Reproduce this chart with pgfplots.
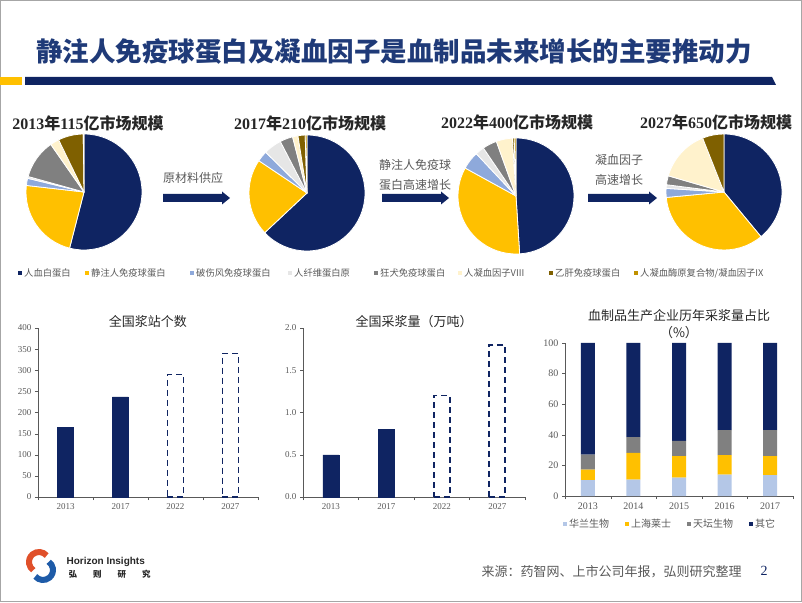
\documentclass[border=0pt]{standalone}
\usepackage{pgfplots}
\pgfplotsset{compat=1.18}
\usepackage{fontspec}
\setmainfont{Liberation Serif}
\newfontfamily\cjk{Noto Sans CJK SC}
\newfontfamily\lsans{Liberation Sans}
\definecolor{navy}{HTML}{0F2462}
\definecolor{gold}{HTML}{FFC000}
\definecolor{lblue}{HTML}{8EA9DB}
\definecolor{lgray}{HTML}{E6E6E6}
\definecolor{midgray}{HTML}{808080}
\definecolor{cream}{HTML}{FFF2CC}
\definecolor{brown}{HTML}{7F6000}
\definecolor{olive}{HTML}{BF9000}
\definecolor{hblue}{HTML}{B4C7E7}
\definecolor{titleblue}{HTML}{1F3A78}
\definecolor{textgray}{HTML}{595959}
\definecolor{axisgray}{HTML}{595959}
\definecolor{darktext}{HTML}{262626}
\definecolor{logored}{HTML}{E0502A}
\definecolor{logoblue}{HTML}{1E5BA8}

\pgfplotsset{
  barax/.style={
    scale only axis, axis x line*=bottom, axis y line*=left,
    axis line style={-, draw=axisgray},
    ymin=0, tick align=outside, clip=false,
    tick label style={text=textgray, font=\fontsize{9}{10}\selectfont},
    /pgf/number format/assume math mode=true,
    major x tick style={draw=none},
    minor x tick style={draw=axisgray},
    y tick style={draw=axisgray},
    major tick length=3pt, minor tick length=3pt,
    title style={font=\cjk\fontsize{13}{15}\selectfont, text=darktext, yshift=-9pt},
  },
  dashbar/.style={ybar, bar width=16pt, bar shift=0pt, fill=white, draw=navy, line width=1.7pt, dash pattern=on 6pt off 4pt},
  solidbar/.style={ybar, bar width=16pt, bar shift=0pt, fill=navy, draw=navy},
}

\newcommand{\piechart}[2]{%
\begin{axis}[at={#1}, anchor=center, hide axis, scale only axis, width=120pt, height=120pt,
  xmin=-1, xmax=1, ymin=-1, ymax=1, clip=false]
\pgfplotsextra{\foreach \p/\c [remember=\e as \s (initially 90)] in {#2}{%
  \pgfmathsetmacro\e{\s-3.6*\p}%
  \fill[\c, draw=white, line width=0.8pt, line join=round] (axis cs:0,0) -- ++(\s:58pt) arc[start angle=\s, end angle=\e, radius=58pt] -- cycle;}}
\end{axis}}

\begin{document}
\begin{tikzpicture}[x=1pt,y=1pt]
\path[use as bounding box] (0pt,0pt) rectangle (802pt,602pt);
\draw[gray!70, line width=1.2pt] (0.6,0.6) rectangle (801.4,601.4);

% title and bar
\node[text=titleblue, font={\cjk\bfseries\fontsize{26.5}{30}\selectfont}] at (394,550) {静注人免疫球蛋白及凝血因子是血制品未来增长的主要推动力};
\fill[gold] (0,517) rectangle (22,525);
\fill[navy] (25,517) -- (776,517) -- (772,525) -- (25,525) -- cycle;

% pie titles
\begin{scope}[every node/.style={text=darktext, font={\bfseries\fontsize{16}{18}\selectfont}}]
\node at (88,479) {2013{\cjk 年}115{\cjk 亿市场规模}};
\node at (310,479) {2017{\cjk 年}210{\cjk 亿市场规模}};
\node at (517,480) {2022{\cjk 年}400{\cjk 亿市场规模}};
\node at (716,480) {2027{\cjk 年}650{\cjk 亿市场规模}};
\end{scope}

% pies
\piechart{(84pt,410pt)}{54/navy, 22.8/gold, 2/lblue, 0.5/lgray, 11/midgray, 2.5/cream, 7/brown, 0.2/olive}
\piechart{(307pt,409pt)}{63/navy, 21.4/gold, 3/lblue, 5/lgray, 3.6/midgray, 1.5/cream, 2/brown, 0.5/olive}
\piechart{(516pt,406pt)}{49/navy, 34/gold, 5/lblue, 2.5/lgray, 4/midgray, 4.5/cream, 0.5/brown, 0.5/olive}
\piechart{(724pt,410pt)}{39/navy, 34.5/gold, 2.5/lblue, 1/lgray, 2.5/midgray, 14.5/cream, 6/brown}

% arrows
\fill[navy] (163,400) -- (222,400) -- (222,397.5) -- (230,404) -- (222,410.5) -- (222,408) -- (163,408) -- cycle;
\fill[navy] (382,400) -- (441,400) -- (441,397.5) -- (449,404) -- (441,410.5) -- (441,408) -- (382,408) -- cycle;
\fill[navy] (588,400) -- (649,400) -- (649,397.5) -- (657,404) -- (649,410.5) -- (649,408) -- (588,408) -- cycle;
\begin{scope}[every node/.style={text=textgray, align=center, font={\cjk\fontsize{12}{19.5}\selectfont}}]
\node at (193,424) {原材料供应};
\node at (415,427) {静注人免疫球\\蛋白高速增长};
\node at (619,432) {凝血因子\\高速增长};
\end{scope}

% pie legend
\foreach \mx/\c/\t in {20/navy/{人血白蛋白}, 87/gold/{静注人免疫球蛋白}, 192/lblue/{破伤风免疫球蛋白}, 290/lgray/{人纤维蛋白原}, 376/midgray/{狂犬免疫球蛋白}, 460/cream/{人凝血因子VIII}, 551/brown/{乙肝免疫球蛋白}, 636/olive/{人凝血酶原复合物/凝血因子IX}}{
  \fill[\c] (\mx-1.8,327.2) rectangle (\mx+1.8,330.8);
  \node[anchor=west, inner sep=0pt, text=textgray, font={\cjk\fontsize{9.3}{11}\selectfont}] at (\mx+4,329) {\t};
}

% chart A
\begin{axis}[barax, at={(38pt,105pt)}, anchor=south west, width=220pt, height=169pt,
  xmin=-0.5, xmax=3.5, ymax=400, ytick={0,50,...,400},
  xtick={0,1,2,3}, xticklabels={2013,2017,2022,2027}, minor xtick={-0.5,0.5,1.5,2.5,3.5},
  title={全国浆站个数}, ybar]
\addplot[solidbar] coordinates {(0,165) (1,237)};
\addplot[dashbar] coordinates {(2,290) (3,340)};
\end{axis}

% chart B
\begin{axis}[barax, at={(303pt,105pt)}, anchor=south west, width=222pt, height=169pt,
  xmin=-0.5, xmax=3.5, ymax=2, ytick={0,0.5,...,2},
  yticklabel style={/pgf/number format/.cd, fixed, fixed zerofill, precision=1},
  xtick={0,1,2,3}, xticklabels={2013,2017,2022,2027}, minor xtick={-0.5,0.5,1.5,2.5,3.5},
  title={全国采浆量（万吨）}, ybar]
\addplot[solidbar] coordinates {(0,0.5) (1,0.8)};
\addplot[dashbar] coordinates {(2,1.2) (3,1.8)};
\end{axis}

% chart C
\begin{axis}[barax, at={(565pt,106pt)}, anchor=south west, width=228pt, height=153pt,
  ybar stacked, bar width=14pt,
  xmin=-0.5, xmax=4.5, ymax=100, ytick={0,20,...,100},
  tick label style={text=textgray, font=\fontsize{10}{11}\selectfont},
  xtick={0,1,2,3,4}, xticklabels={2013,2014,2015,2016,2017}, minor xtick={-0.5,0.5,1.5,2.5,3.5,4.5},
  title={血制品生产企业历年采浆量占比\\（\%）}, title style={align=center, yshift=4pt, font=\cjk\fontsize{13}{17}\selectfont},
  legend columns=4,
  legend style={at={(0.5,0)}, anchor=center, yshift=-28pt, xshift=-9pt, draw=none, fill=none,
    font=\cjk\fontsize{10}{12}\selectfont, text=textgray, inner sep=0pt,
    /tikz/every even column/.append style={column sep=14pt}},
  legend image code/.code={\fill[#1] (0pt,-2pt) rectangle (4pt,2pt);}]
\addplot[fill=hblue, draw=none] coordinates {(0,10.3) (1,10.7) (2,12) (3,14) (4,13.6)};
\addplot[fill=gold, draw=none] coordinates {(0,7) (1,17.5) (2,14) (3,12.7) (4,12.4)};
\addplot[fill=midgray, draw=none] coordinates {(0,9.8) (1,10.3) (2,10.1) (3,16.4) (4,17.1)};
\addplot[fill=navy, draw=none] coordinates {(0,72.9) (1,61.5) (2,63.9) (3,56.9) (4,56.9)};
\legend{华兰生物,上海莱士,天坛生物,其它}
\end{axis}

% footer
\draw[logored, line width=6pt] (39,40) ++(40:10) arc[start angle=40, end angle=235, radius=10];
\draw[logoblue, line width=6pt] (43,32) ++(220:10) arc[start angle=220, end angle=415, radius=10];
\node[anchor=west, text=darktext, font={\lsans\bfseries\fontsize{10}{12}\selectfont}] at (63,40) {Horizon Insights};
\node[anchor=west, text=darktext, font={\cjk\bfseries\fontsize{8.5}{10}\selectfont}] at (65,28) {弘\hspace{16pt}则\hspace{16pt}研\hspace{16pt}究};
\node[anchor=west, text=textgray, font={\cjk\fontsize{13}{15}\selectfont}] at (478,30) {来源：药智网、上市公司年报，弘则研究整理};
\node[text=navy, font=\fontsize{14}{16}\selectfont] at (764,31) {2};
\end{tikzpicture}
\end{document}
